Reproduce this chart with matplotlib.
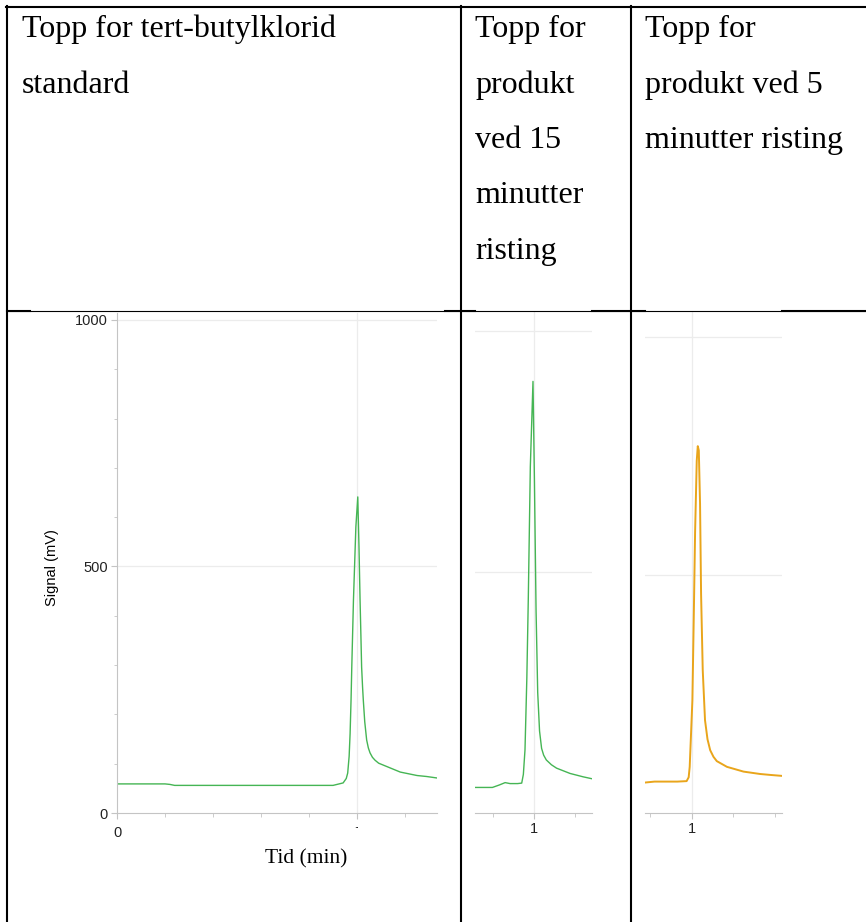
import numpy as np
import matplotlib
matplotlib.use("Agg")
import matplotlib.pyplot as plt
from matplotlib.lines import Line2D
from matplotlib.transforms import Bbox

W, H = 866, 922

# header text of the table
head_std = ["Topp for tert-butylklorid", "standard"]
head_15 = ["Topp for", "produkt", "ved 15", "minutter", "risting"]
head_5 = ["Topp for", "produkt ved 5", "minutter risting"]

# tert-butylklorid standard (time in min, signal in mV)
t_std = [0.0, 0.1, 0.2, 0.22, 0.24, 0.4, 0.6, 0.8, 0.9, 0.942, 0.955, 0.961,
         0.967, 0.971, 0.975, 0.978, 0.985, 0.995, 1.003, 1.008, 1.0125, 1.016,
         1.019, 1.023, 1.026, 1.032, 1.04, 1.047, 1.054, 1.064, 1.075, 1.09,
         1.11, 1.15, 1.18, 1.25, 1.29, 1.333]
s_std = [59, 59, 59, 58, 56, 56, 56, 56, 56, 61, 70, 81,
         115, 161, 230, 296, 432, 580, 641, 540, 432, 360,
         296, 255, 229, 185, 148, 132, 122, 113, 107, 101,
         97, 89, 83, 76, 74, 71]

# produkt, 15 min risting
t_15 = [0.712, 0.76, 0.797, 0.83, 0.859, 0.883, 0.92, 0.94, 0.948, 0.956, 0.965,
        0.972, 0.982, 0.995, 1.002, 1.01, 1.018, 1.027, 1.037, 1.047, 1.06,
        1.085, 1.11, 1.176, 1.24, 1.283]
s_15 = [53, 53, 53, 58, 63, 61, 61, 62, 80, 131, 280,
        442, 718, 895, 690, 420, 250, 170, 134, 120, 110,
        100, 93, 82, 75, 71]

# produkt, 5 min risting
t_5 = [0.774, 0.82, 0.88, 0.93, 0.975, 0.985, 0.99, 1.003, 1.011, 1.016, 1.024,
       1.029, 1.034, 1.04, 1.045, 1.053, 1.064, 1.076, 1.089, 1.105, 1.121,
       1.17, 1.25, 1.33, 1.38, 1.436]
s_5 = [64, 66, 66, 66, 67, 75, 97, 237, 448, 589, 740,
       771, 762, 650, 460, 300, 195, 155, 132, 118, 109,
       97, 87, 82, 80, 78]

green = "#45b554"
orange = "#e9a51b"
axis_grey = "#c4c4c4"
grid_grey = "#ececec"

fig = plt.figure(figsize=(W / 100, H / 100), dpi=100)


def fx(x):
    return x / W


def fy(y):
    return 1 - y / H


def hline(x0, x1, y, lw):
    fig.add_artist(Line2D([fx(x0), fx(x1)], [fy(y), fy(y)], color="black",
                          lw=lw, transform=fig.transFigure))


def vline(x, y0, y1, lw):
    fig.add_artist(Line2D([fx(x), fx(x)], [fy(y0), fy(y1)], color="black",
                          lw=lw, transform=fig.transFigure))


def panel(x0, x1, y0, y1, xlim, ylim, major_x, minor_x, show_y):
    ax = fig.add_axes([fx(x0), fy(y1), (x1 - x0) / W, (y1 - y0) / H])
    ax.set_xlim(*xlim)
    ax.set_ylim(*ylim)
    ax.patch.set_alpha(0)
    for side in ["top", "right"]:
        ax.spines[side].set_visible(False)
    ax.spines["bottom"].set_color(axis_grey)
    ax.spines["left"].set_color(axis_grey)
    ax.spines["left"].set_visible(show_y)
    ax.axhline(500, color=grid_grey, lw=0.9, zorder=0)
    ax.axhline(1000, color=grid_grey, lw=0.9, zorder=0)
    ax.axvline(1, color=grid_grey, lw=0.9, zorder=0)
    ax.set_xticks(major_x)
    ax.set_xticks(minor_x, minor=True)
    ax.set_xticklabels(["%g" % v for v in major_x])
    ax.tick_params(axis="x", which="major", direction="out", length=4.5,
                   color=axis_grey, labelsize=10.5, labelcolor="#222222")
    ax.tick_params(axis="x", which="minor", direction="out", length=3,
                   color=axis_grey)
    if show_y:
        ax.set_yticks([0, 500, 1000])
        ax.set_yticks(np.arange(0, 1001, 100), minor=True)
        ax.tick_params(axis="y", which="major", direction="out", length=4.5,
                       pad=2, color=axis_grey, labelsize=10.5,
                       labelcolor="#222222")
        ax.tick_params(axis="y", which="minor", direction="out", length=2.5,
                       color=axis_grey)
    else:
        ax.set_yticks([])
    for lab in ax.get_xticklabels() + ax.get_yticklabels():
        lab.set_family("Liberation Sans")
    return ax


# chromatogram panels
ax1 = panel(117, 437, 313, 813, (0, 1.333), (0, 1014),
            [0, 1], [0.2, 0.4, 0.6, 0.8, 1.2], True)
ax1.tick_params(axis="x", which="major", pad=5)
ax1.plot(t_std, s_std, color=green, lw=1.0)
ax1.set_ylabel("Signal (mV)", fontsize=10.5, family="Liberation Sans")
ax1.yaxis.set_label_coords(-0.181, 0.49)
ax1.set_xlabel("Tid (min)", fontsize=15.5, family="Liberation Serif")
ax1.xaxis.set_label_coords(0.59, -0.072)
# the "1" under the first panel is cut off in the source picture
lab1 = ax1.get_xticklabels()[1]
lab1.set_clip_box(Bbox([[0, H - 828], [W, H]]))
lab1.set_clip_on(True)

ax2 = panel(475, 592, 311, 813, (0.712, 1.283), (0, 1041),
            [1], [0.8, 1.2], False)
ax2.tick_params(axis="x", which="major", pad=2)
ax2.plot(t_15, s_15, color=green, lw=1.0)

ax3 = panel(645, 782, 311, 813, (0.774, 1.436), (0, 1055),
            [1], [0.8, 1.2, 1.4], False)
ax3.tick_params(axis="x", which="major", pad=2)
ax3.plot(t_5, s_5, color=orange, lw=1.4)

# table borders
hline(6, W, 7, 1.5)
vline(7, 6, H, 1.5)
vline(461, 6, H, 1.5)
vline(631, 6, H, 1.5)
hline(7, W, 311.5, 0.8)
for a, b in [(7, 30), (445, 475), (592, 645), (782, W)]:
    hline(a, b, 311.5, 1.5)

# header text
for k, s in enumerate(head_std):
    fig.text(fx(22), fy(37.5 + 55.3 * k), s, family="Liberation Serif",
             fontsize=23, va="baseline")
for k, s in enumerate(head_15):
    fig.text(fx(475), fy(37.5 + 55.3 * k), s, family="Liberation Serif",
             fontsize=23, va="baseline")
for k, s in enumerate(head_5):
    fig.text(fx(645), fy(37.5 + 55.3 * k), s, family="Liberation Serif",
             fontsize=23, va="baseline")

fig.savefig("out.png", dpi=100)
